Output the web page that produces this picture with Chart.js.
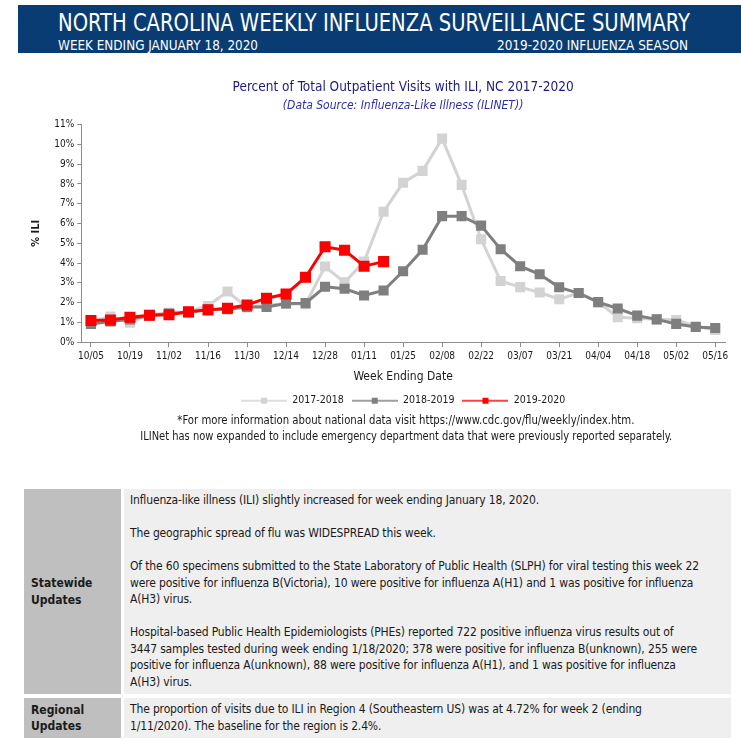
<!DOCTYPE html>
<html>
<head>
<meta charset="utf-8">
<script src="https://cdn.jsdelivr.net/npm/chart.js@4"></script>
<style>
  body { margin: 0; width: 741px; height: 741px; overflow: hidden; position: relative; background: #fff;
         font-family: "DejaVu Sans Condensed", "Liberation Sans", sans-serif; color: #1a1a1a; }
  #banner { position: absolute; left: 18px; top: 5px; width: 723px; height: 48px; background: #083c72; color: #fff; }
  #banner div { position: absolute; white-space: nowrap; }
  #banner .t1 { left: 40px; top: 4px; font-size: 24px; transform-origin: left center; }
  #banner .t2 { left: 40px; top: 32px; font-size: 13.5px; transform-origin: left center; }
  #banner .t3 { right: 53px; top: 32px; font-size: 13.5px; transform-origin: right center; }
  #chartBox { position: absolute; left: 0; top: 60px; width: 741px; height: 356px; }
  .note { position: absolute; left: 0; width: 812px; text-align: center; font-size: 12px; white-space: nowrap; }
  .note span { display: inline-block; }
  #tbl { position: absolute; left: 24px; top: 489px; font-size: 12px; line-height: 16.5px; letter-spacing: -0.15px; }
  .row { display: flex; margin-bottom: 4px; }
  .lab { width: 90px; padding-left: 7px; background: #bfbfbf; font-weight: bold; display: flex; align-items: center; letter-spacing: 0; }
  .txt { width: 601px; margin-left: 3px; padding: 3px 0 4px 6px; background: #efefef; white-space: nowrap; overflow: hidden; }
  .txt p { margin: 0 0 16.5px 0; }
  .txt p:last-child { margin-bottom: 0; }
</style>
</head>
<body>
<div id="banner">
  <div class="t1" data-w="632">NORTH CAROLINA WEEKLY INFLUENZA SURVEILLANCE SUMMARY</div>
  <div class="t2" data-w="200">WEEK ENDING JANUARY 18, 2020</div>
  <div class="t3" data-w="191">2019-2020 INFLUENZA SEASON</div>
</div>
<div id="chartBox"><canvas id="c"></canvas></div>
<div class="note" style="top:413px"><span data-w="457">*For more information about national data visit https://www.cdc.gov/flu/weekly/index.htm.</span></div>
<div class="note" style="top:429px"><span data-w="532">ILINet has now expanded to include emergency department data that were previously reported separately.</span></div>
<div id="tbl">
  <div class="row">
    <div class="lab">Statewide<br>Updates</div>
    <div class="txt">
      <p>Influenza-like illness (ILI) slightly increased for week ending January 18, 2020.</p>
      <p>The geographic spread of flu was WIDESPREAD this week.</p>
      <p>Of the 60 specimens submitted to the State Laboratory of Public Health (SLPH) for viral testing this week 22<br>were positive for influenza B(Victoria), 10 were positive for influenza A(H1) and 1 was positive for influenza<br>A(H3) virus.</p>
      <p>Hospital-based Public Health Epidemiologists (PHEs) reported 722 positive influenza virus results out of<br>3447 samples tested during week ending 1/18/2020; 378 were positive for influenza B(unknown), 255 were<br>positive for influenza A(unknown), 88 were positive for influenza A(H1), and 1 was positive for influenza<br>A(H3) virus.</p>
    </div>
  </div>
  <div class="row">
    <div class="lab">Regional<br>Updates</div>
    <div class="txt">
      <p>The proportion of visits due to ILI in Region 4 (Southeastern US) was at 4.72% for week 2 (ending<br>1/11/2020). The baseline for the region is 2.4%.</p>
    </div>
  </div>
</div>
<script>
  const weeks = ['10/05', '10/12', '10/19', '10/26', '11/02', '11/09', '11/16', '11/23', '11/30',
    '12/07', '12/14', '12/21', '12/28', '01/04', '01/11', '01/18', '01/25', '02/01', '02/08',
    '02/15', '02/22', '02/29', '03/07', '03/14', '03/21', '03/28', '04/04', '04/11', '04/18',
    '04/25', '05/02', '05/09', '05/16'];

  // % of outpatient visits with ILI
  const ili1718 = [1.05, 1.29, 0.98, 1.38, 1.48, 1.55, 1.83, 2.56, 1.75, 1.88, 1.94, 1.92, 3.82,
    3.02, 4.07, 6.59, 8.06, 8.66, 10.29, 7.95, 5.20, 3.09, 2.78, 2.51, 2.17, 2.48, 2.02, 1.26,
    1.21, 1.15, 1.12, 0.80, 0.61];
  const ili1819 = [0.92, 1.04, 1.15, 1.34, 1.44, 1.51, 1.65, 1.66, 1.78, 1.78, 1.95, 1.97, 2.80,
    2.70, 2.36, 2.61, 3.58, 4.67, 6.37, 6.37, 5.89, 4.70, 3.84, 3.43, 2.77, 2.48, 2.02, 1.70,
    1.34, 1.15, 0.92, 0.76, 0.71];
  const ili1920 = [1.09, 1.12, 1.26, 1.36, 1.38, 1.53, 1.63, 1.71, 1.88, 2.22, 2.43, 3.28, 4.82,
    4.65, 3.84, 4.07];

  const seasons = ['2017-2018', '2018-2019', '2019-2020'];
  const colors = ['#d3d3d3', '#7f7f7f', '#ff0000'];

  const fontFam = '"DejaVu Sans Condensed", "Liberation Sans", sans-serif';

  // squeeze the narrow-font text to the widths in the original
  document.querySelectorAll('[data-w]').forEach(el => {
    const w = el.getBoundingClientRect().width;
    el.style.transform = 'scaleX(' + (+el.dataset.w / w) + ')';
  });

  // legend icon: short line with a square in the middle
  function legendIcon(color, size) {
    const c = document.createElement('canvas');
    c.width = 46; c.height = 10;
    const g = c.getContext('2d');
    g.strokeStyle = color; g.lineWidth = 1.5;
    g.beginPath(); g.moveTo(0, 5); g.lineTo(46, 5); g.stroke();
    g.fillStyle = color;
    g.fillRect(23 - size / 2, 5 - size / 2, size, size);
    return c;
  }
  const icons = {};

  const series = [ili1920, ili1819, ili1718]; // red drawn on top
  const datasets = series.map((vals, k) => {
    const idx = 2 - k;
    return {
      label: seasons[idx],
      data: vals,
      borderColor: colors[idx],
      backgroundColor: colors[idx],
      borderWidth: 3,
      pointStyle: 'rect',
      pointRadius: idx === 2 ? 5.7 : 5,
      pointHoverRadius: idx === 2 ? 5.7 : 5,
      tension: 0
    };
  });
  datasets.forEach((d, i) => { icons[i] = legendIcon(d.borderColor, 6); });

  new Chart(document.getElementById('c'), {
    type: 'line',
    data: { labels: weeks, datasets: datasets },
    options: {
      responsive: true,
      maintainAspectRatio: false,
      animation: false,
      layout: { padding: { left: 26, right: 16, top: 0, bottom: 0 } },
      plugins: {
        tooltip: { enabled: false },
        title: {
          display: true,
          fullSize: false,
          text: 'Percent of Total Outpatient Visits with ILI, NC 2017-2020',
          color: '#1c1c7c',
          font: { family: fontFam, size: 13.5, weight: 'normal' },
          padding: { top: 19, bottom: 3 }
        },
        subtitle: {
          display: true,
          fullSize: false,
          text: '(Data Source: Influenza-Like Illness (ILINET))',
          color: '#2e2eaa',
          font: { family: fontFam, size: 12, style: 'italic' },
          padding: { bottom: 12 }
        },
        legend: {
          position: 'bottom',
          fullSize: false,
          reverse: true,
          labels: {
            usePointStyle: true,
            pointStyleWidth: 46,
            boxHeight: 10,
            padding: 8,
            color: '#1a1a1a',
            font: { family: fontFam, size: 10.5 },
            generateLabels: (chart) => Chart.defaults.plugins.legend.labels.generateLabels(chart)
              .map(l => { l.pointStyle = icons[l.datasetIndex]; return l; })
          }
        }
      },
      scales: {
        x: {
          offset: true,
          grid: {
            offset: false,
            drawOnChartArea: false,
            tickLength: 5,
            color: (ctx) => ctx.index % 2 ? 'rgba(0,0,0,0)' : '#8c8c8c'
          },
          border: { color: '#8c8c8c' },
          ticks: {
            autoSkip: false,
            maxRotation: 0,
            minRotation: 0,
            color: '#1a1a1a',
            font: { family: fontFam, size: 10 },
            callback: (v, i) => (i % 2 ? '' : weeks[i])
          },
          title: {
            display: true,
            text: 'Week Ending Date',
            color: '#1a1a1a',
            font: { family: fontFam, size: 12 },
            padding: { top: 5, bottom: 3 }
          }
        },
        y: {
          min: 0,
          max: 11,
          grid: { drawOnChartArea: false, tickLength: 4, color: '#8c8c8c' },
          border: { color: '#8c8c8c' },
          ticks: {
            stepSize: 1,
            color: '#1a1a1a',
            font: { family: fontFam, size: 10 },
            padding: 3,
            callback: (v) => v + '%'
          },
          title: {
            display: true,
            text: '% ILI',
            color: '#1a1a1a',
            font: { family: fontFam, size: 11, weight: 'bold' },
            padding: { bottom: 8 }
          }
        }
      }
    }
  });
</script>
</body>
</html>
